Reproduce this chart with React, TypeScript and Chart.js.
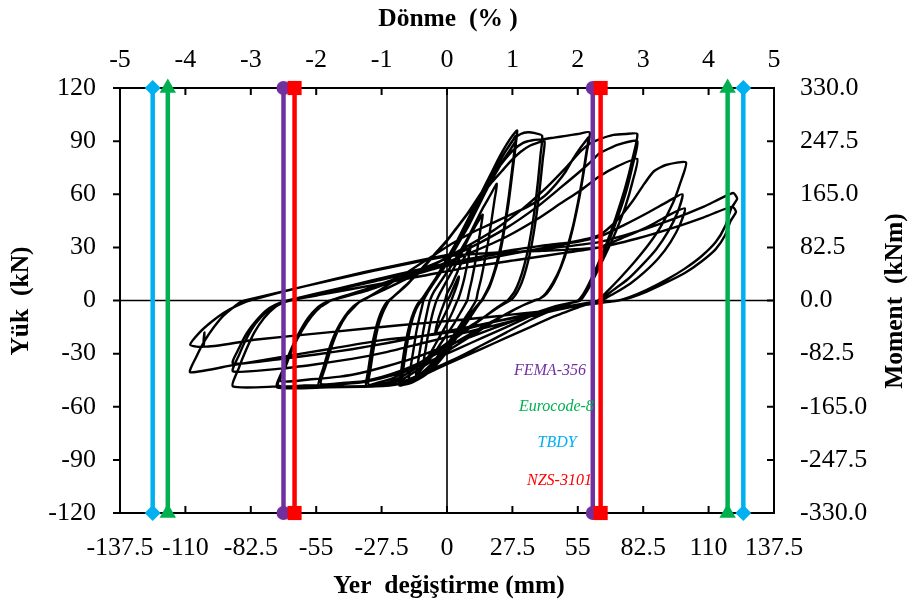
import React, { useEffect, useRef } from "react";
import { Chart, registerables } from "chart.js";

Chart.register(...registerables);

// ---- axis ticks ----
const xTicksMm = [-137.5, -110, -82.5, -55, -27.5, 0, 27.5, 55, 82.5, 110, 137.5];
const topTicksPct = [-5, -4, -3, -2, -1, 0, 1, 2, 3, 4, 5];
const yTicksKN = [-120, -90, -60, -30, 0, 30, 60, 90, 120];
const yTicksKNm = [-330, -247.5, -165, -82.5, 0, 82.5, 165, 247.5, 330];

// ---- hysteresis cycles: [displacement mm, load kN] ----
const cycle01: number[][] = [[0,0],[1,2],[2,5],[3,8],[4,11],[5,13.5],[4.5,10],[3.5,6],[2.5,2.5],[1.8,0],[0.5,-4],[-1,-8],[-2.5,-12],[-4,-16],[-5,-19],[-4.5,-15],[-3.5,-10],[-2.5,-6],[-1.5,-2.5],[-0.8,0]];
const cycle02: number[][] = [[0,4],[2,9],[4,15],[6,21],[8,26],[10,31],[9.3,26],[8.3,19],[7.2,12],[6,6],[4.8,1],[4.4,0],[2.5,-6],[0,-13],[-2.5,-19],[-5,-25],[-7.5,-31],[-10,-36],[-9.3,-30],[-8.3,-22],[-7.2,-14],[-6,-7],[-4.8,-1.5],[-4.4,0]];
const cycle03: number[][] = [[-3,4],[-1,9],[1.5,15],[4,21],[6.5,28],[9,35],[11.5,41],[13.5,45.5],[15,48.5],[14.2,41],[13,31],[11.8,21],[10.5,12],[9.3,5],[8.5,0],[6,-6],[3,-13],[0,-19],[-3,-25],[-6,-31],[-9,-36],[-11.5,-40],[-13,-42],[-12.2,-35],[-11,-25],[-9.8,-16],[-8.6,-8],[-7.6,-2],[-7.2,0]];
const cycle04: number[][] = [[-5.5,5],[-3,10],[0,16],[3,22],[6,29],[9,36],[12,44],[15,52],[18,59],[21,66],[20,57],[18.7,45],[17.3,33],[15.8,22],[14.3,12],[13,5],[12.2,0],[9.5,-6],[6.5,-12],[3.5,-18],[0.5,-24],[-2.5,-30],[-5.5,-35],[-8.5,-39],[-11.5,-42],[-14,-44],[-16,-45],[-15.2,-37],[-14,-27],[-12.8,-17],[-11.5,-9],[-10.4,-3],[-9.9,0]];
const cycle05: number[][] = [[-7.5,6],[-5,12],[-2,19],[1,26],[4,33],[7,41],[10,49],[13,57],[16,65],[19,73],[22,81],[25,88],[27.5,93],[29.5,96],[28.8,87],[27.7,75],[26.4,62],[25,49],[23.5,37],[21.8,26],[20,17],[18,9],[16,3.5],[14.5,0],[12,-5],[9,-11],[6,-17],[3,-23],[0,-29],[-3,-34],[-6,-38.5],[-9,-42],[-12,-44.5],[-15,-46.5],[-18,-47.5],[-20,-48],[-19.2,-40],[-18.2,-31],[-17,-22],[-15.6,-14],[-14,-7],[-12.4,-2.5],[-11,0]];
const cycle06: number[][] = [[-8.5,5],[-6,10],[-3,16],[0,22],[3,29],[6,36],[9,44],[12,52],[15,60],[18,68],[21,76],[24,83],[27,89],[29,93],[28.3,84],[27.2,72],[26,59],[24.6,46],[23.1,34],[21.4,24],[19.6,15],[17.7,8],[15.8,3],[14.5,0],[12,-4],[9,-10],[6,-16],[3,-22],[0,-27],[-3,-32],[-6,-37],[-9,-40.5],[-12,-43.5],[-15,-45.5],[-18,-46.5],[-20,-47],[-19.2,-39],[-18.2,-30],[-17,-21],[-15.6,-13],[-14,-6.5],[-12.4,-2],[-11.2,0]];
const cycle07: number[][] = [[-8.5,4],[-6,9],[-3,15],[0,21],[3,28],[6,35],[9,42],[12,50],[15,58],[18,66],[21,73],[24,80],[27,86],[29,90],[28.3,81],[27.2,69],[26,56],[24.6,44],[23.1,32],[21.4,22],[19.6,14],[17.7,7],[15.8,2.5],[14.8,0],[12,-4],[9,-9],[6,-15],[3,-20],[0,-25],[-3,-30],[-6,-35],[-9,-39],[-12,-42],[-15,-44],[-19,-45.5],[-18.2,-37],[-17.2,-28],[-16,-19],[-14.6,-11],[-13,-5],[-11.5,-1.5],[-10.5,0]];
const cycle08: number[][] = [[-8,5],[-5,11],[-2,17],[1,24],[4,31],[7,38],[10,46],[13,54],[16,62],[19,70],[22,78],[25,85],[28,91],[31,94],[34,95],[37,94.5],[40,93],[39.3,82],[38.3,68],[37.1,54],[35.7,41],[34.1,29],[32.3,19],[30.4,11],[28.4,5],[26.5,1.5],[25.5,0],[21,-4],[16,-9],[11,-14],[6,-19],[1,-24],[-4,-29],[-9,-34],[-14,-39],[-19,-43],[-24,-46],[-29,-47.5],[-34,-48.5],[-33.2,-40],[-32.2,-31],[-31,-22],[-29.6,-14],[-28,-7.5],[-26.4,-3],[-25,-0.5],[-24.5,0]];
const cycle09: number[][] = [[-21,4],[-17,9],[-13,14],[-9,20],[-5,26],[-1,32],[3,39],[7,46],[11,53],[15,60],[19,67],[23,73],[27,79],[31,84],[35,87.5],[38,89],[41,90],[40.3,80],[39.3,67],[38.1,53],[36.7,40],[35.1,28],[33.3,18],[31.4,10],[29.4,4.5],[27.5,1],[26.5,0],[22,-3.5],[17,-8],[12,-12.5],[7,-17],[2,-22],[-3,-27],[-8,-32],[-13,-36.5],[-18,-40.5],[-23,-44],[-28,-46],[-33,-47.5],[-32.2,-39],[-31.2,-30],[-30,-21],[-28.6,-13],[-27,-7],[-25.4,-2.5],[-24.2,0]];
const cycle10: number[][] = [[-20,5],[-16,10],[-12,16],[-8,22],[-4,28],[0,34],[4,41],[8,48],[12,56],[16,64],[20,72],[24,79],[28,85],[32,89],[36,90.5],[40,91],[45,92],[50,93],[55,94],[60,95],[58.8,84],[57.3,71],[55.5,57],[53.3,43],[50.8,30],[48,19],[45,10],[42,4],[39,1],[36.5,0],[30,-4],[23,-9],[16,-15],[9,-21],[2,-27],[-5,-33],[-12,-39],[-18,-44],[-24,-47],[-32,-48.3],[-42,-48.5],[-54,-48.5],[-52,-38],[-49.5,-27],[-46.5,-17],[-43,-9],[-39.5,-3.5],[-37,-1],[-35.5,0]];
const cycle11: number[][] = [[-28,6],[-20,13],[-12,20],[-5,26],[2,32],[10,38],[18,43],[26,48],[34,53],[41,59],[46,66],[50,73],[53,80],[56,86],[58,89.5],[59.5,92],[58.3,81],[56.8,68],[55,55],[52.8,41],[50.3,29],[47.5,18],[44.5,10],[41.5,4],[39,1],[37,0],[30,-4],[23,-9],[16,-14],[9,-19.5],[2,-25],[-5,-30.5],[-12,-35.5],[-19,-39.5],[-27,-43],[-35,-45.5],[-44,-46.5],[-53,-47],[-51,-37],[-48.5,-26],[-45.5,-16],[-42,-8],[-38.5,-3],[-36,0]];
const cycle12: number[][] = [[-25,7],[-10,17],[5,28],[20,40],[32,52],[42,64],[50,75],[56,84],[60,88.5],[64,91],[70,93.5],[75,94],[80,94],[78,80],[75,64],[71,47],[67,32],[63,19],[59.5,9],[57,3],[55,0],[45,-5],[35,-11],[25,-18],[15,-25],[5,-32],[-5,-38],[-12,-43],[-20,-47],[-30,-48.5],[-50,-49],[-71.5,-49],[-69,-39],[-66,-29],[-62.5,-19],[-58.5,-10],[-54.5,-4],[-51,-1],[-49,0]];
const cycle13: number[][] = [[-35,6],[-20,13],[-5,21],[10,30],[25,41],[38,53],[48,64],[56,73],[61,79],[64,83],[72,88],[80,90],[78,76],[75,60],[71,44],[67,30],[63,18],[59.5,8],[57,2.5],[55.5,0],[45,-4],[35,-9],[25,-15],[15,-21],[5,-27],[-5,-33],[-15,-39],[-25,-43],[-35,-46],[-48,-47.5],[-60,-48],[-71,-48],[-68.5,-38],[-65.5,-28],[-62,-18],[-58,-9.5],[-54,-4],[-50.5,-1],[-49,0]];
const cycle14: number[][] = [[-35,5],[-20,12],[-5,19],[10,27],[25,36],[38,46],[48,55],[56,62],[64,70],[72,76],[80,80],[78,67],[75,53],[71,39],[67,27],[63,16],[60,8],[57.5,2.5],[56,0],[45,-3.5],[35,-8],[25,-13],[15,-18],[5,-23],[-5,-28],[-15,-33],[-25,-37],[-35,-40.5],[-45,-43],[-57,-44.5],[-70,-45.5],[-67.5,-36],[-64.5,-26],[-61,-17],[-57,-9],[-53,-3.5],[-50,-1],[-49,0]];
const cycle15: number[][] = [[-35,6],[-20,12],[-5,18],[10,23],[25,28],[40,31],[52,33],[64,37],[72,46],[78,56],[83,66],[87,73],[92,76.5],[100.5,78],[98,66],[95,55],[90,42],[85,32],[79,22],[73,13],[68,6],[65,2],[63.5,0],[55,-4],[45,-9],[35,-15],[25,-21],[15,-27],[5,-33],[-5,-39],[-12,-43.5],[-20,-47],[-30,-48.3],[-50,-48.5],[-70,-48.5],[-90,-48.5],[-87.5,-38],[-84.5,-28],[-81,-18],[-77,-10],[-72.5,-4],[-68.5,-1],[-66,0]];
const cycle16: number[][] = [[-50,5],[-30,11],[-10,17],[10,22],[30,27],[50,32],[64,36],[75,43],[85,50],[93,56],[99,60],[97,50],[93,39],[88,29],[82,20],[76,12],[70,6],[66,2],[64,0],[50,-4],[35,-9],[20,-14],[5,-19],[-10,-24],[-25,-29],[-40,-33],[-55,-36],[-70,-38.5],[-90,-40],[-87.5,-31],[-84.5,-22],[-80.5,-13],[-76,-6.5],[-71,-2],[-66.5,0]];
const cycle17: number[][] = [[-50,4],[-30,9],[-10,14],[10,19],[30,23],[50,27],[64,30],[75,36],[85,42],[93,48],[100,52],[98,43],[94,33],[89,24],[83,16],[77,9.5],[71,4.5],[67,1.5],[65,0],[50,-3.5],[35,-7.5],[20,-12],[5,-16],[-10,-20],[-25,-24],[-40,-27.5],[-55,-30.5],[-70,-33],[-90,-35.5],[-87.5,-27],[-84,-18],[-80,-11],[-75.5,-5],[-70.5,-1.5],[-67,0]];
const cycle18: number[][] = [[-45,7],[-20,15],[0,21],[20,26],[40,29],[64,33],[80,39],[95,46],[108,53],[120.3,60.7],[122,57.5],[119.5,52],[117,42],[113,33],[107,25],[100,18],[92,11.5],[84,6],[77,2],[72,0],[55,-3],[40,-7],[20,-12],[5,-17],[-10,-20],[-28,-22.5],[-50,-27.5],[-70,-32],[-90,-36.5],[-108,-40.5],[-105.5,-32],[-102,-23],[-98,-15],[-94,-8.5],[-90,-4],[-87,-1],[-85,0]];
const cycle19: number[][] = [[-60,8],[-30,17],[0,25],[20,27],[40,28],[64,30],[80,35],[95,41],[108,47],[120,53],[121.5,50],[119.3,45],[117,37],[113,29],[107,22],[100,15.5],[92,10],[84,5],[77,1.5],[72,0],[55,-3],[40,-6],[20,-9],[5,-11],[-20,-14],[-50,-18],[-80,-22],[-102,-26],[-102,-18],[-102.5,-26],[-108,-25],[-104,-18],[-99,-12],[-94,-7],[-88.5,-3],[-83,0],[-60,8],[-35,16],[-10,23],[5,27]];

const cycles = [cycle01, cycle02, cycle03, cycle04, cycle05, cycle06, cycle07, cycle08, cycle09, cycle10, cycle11, cycle12, cycle13, cycle14, cycle15, cycle16, cycle17, cycle18, cycle19];

// ---- code limits (mm) ----
const limitNames = ["FEMA-356", "Eurocode-8", "TBDY", "NZS-3101"];
const limitColors = ["#7030A0", "#00B050", "#00B0F0", "#FF0000"];
const limitLeftMm = [-68.75, -117.4, -123.75, -64.1];
const limitRightMm = [61.3, 118.0, 124.6, 64.6];
const limitMarkers = ["circle", "triangle", "rectRot", "rect"];
const limitMarkerRadius = [7, 9.5, 8, 10];

// label anchor positions (mm, kN) for the limit names
const labelAnchorX = [43.3, 46.0, 46.3, 47.3];
const labelAnchorY = [-39.8, -60.1, -80.5, -101.9];

const SERIF = "'Liberation Serif', 'Times New Roman', serif";

export default function App() {
  const ref = useRef<HTMLCanvasElement | null>(null);

  useEffect(() => {
    document.body.style.margin = "0";
    const canvas = ref.current;
    if (!canvas) return;

    const curve = cycles.flat().map(([x, y]) => ({ x, y }));

    const limitSets: any[] = [];
    limitNames.forEach((name, i) => {
      [limitLeftMm[i], limitRightMm[i]].forEach((v, k) => {
        limitSets.push({
          label: name + (k === 0 ? " -" : " +"),
          data: [{ x: v, y: -120 }, { x: v, y: 120 }],
          showLine: true,
          borderColor: limitColors[i],
          borderWidth: 4.5,
          pointStyle: limitMarkers[i],
          pointRadius: limitMarkerRadius[i],
          pointBackgroundColor: limitColors[i],
          pointBorderColor: limitColors[i],
          pointBorderWidth: 0,
          clip: false,
          order: 5 - i,
          xAxisID: "x",
          yAxisID: "y",
        });
      });
    });

    const tickFont = { family: SERIF, size: 26 };

    const decor = {
      id: "decor",
      beforeDatasetsDraw(chart: any) {
        const { ctx, chartArea: a, scales } = chart;
        ctx.save();
        ctx.strokeStyle = "#000";
        ctx.lineWidth = 1.6;
        const x0 = scales.x.getPixelForValue(0);
        const y0 = scales.y.getPixelForValue(0);
        ctx.beginPath();
        ctx.moveTo(a.left, y0); ctx.lineTo(a.right, y0);
        ctx.moveTo(x0, a.top); ctx.lineTo(x0, a.bottom);
        ctx.stroke();
        ctx.lineWidth = 2;
        ctx.strokeRect(a.left, a.top, a.right - a.left, a.bottom - a.top);
        const L = 7;
        ctx.beginPath();
        xTicksMm.forEach((v) => {
          const p = scales.x.getPixelForValue(v);
          ctx.moveTo(p, a.bottom); ctx.lineTo(p, a.bottom - L);
        });
        topTicksPct.forEach((v) => {
          const p = scales.x2.getPixelForValue(v);
          ctx.moveTo(p, a.top); ctx.lineTo(p, a.top + L);
        });
        yTicksKN.forEach((v) => {
          const p = scales.y.getPixelForValue(v);
          ctx.moveTo(a.left - L, p); ctx.lineTo(a.left, p);
        });
        yTicksKNm.forEach((v) => {
          const p = scales.y2.getPixelForValue(v);
          ctx.moveTo(a.right - L, p); ctx.lineTo(a.right, p);
        });
        ctx.stroke();
        ctx.restore();
      },
      afterDraw(chart: any) {
        const { ctx, scales } = chart;
        ctx.save();
        ctx.fillStyle = "#000";
        ctx.textAlign = "center";
        ctx.textBaseline = "middle";
        ctx.font = `bold 25.5px ${SERIF}`;
        ctx.fillText("Dönme  (% )", 448, 19);
        ctx.fillText("Yer  değiştirme (mm)", 449, 586);
        ctx.save();
        ctx.translate(21, 301);
        ctx.rotate(-Math.PI / 2);
        ctx.fillText("Yük  (kN)", 0, 0);
        ctx.restore();
        ctx.save();
        ctx.translate(895, 301);
        ctx.rotate(-Math.PI / 2);
        ctx.fillText("Moment  (kNm)", 0, 0);
        ctx.restore();
        ctx.font = `italic 16px ${SERIF}`;
        limitNames.forEach((n, i) => {
          ctx.fillStyle = limitColors[i];
          ctx.fillText(n, scales.x.getPixelForValue(labelAnchorX[i]), scales.y.getPixelForValue(labelAnchorY[i]));
        });
        ctx.restore();
      },
    };

    const common = {
      grid: { display: false, drawTicks: false },
      border: { display: false },
    };

    const chart = new Chart(canvas, {
      type: "scatter",
      data: {
        datasets: [
          ...limitSets,
          {
            label: "Yük",
            data: curve,
            showLine: true,
            borderColor: "#000",
            borderWidth: 2.4,
            pointRadius: 0,
            tension: 0.2,
            order: 10,
            xAxisID: "x",
            yAxisID: "y",
          },
        ],
      },
      options: {
        animation: false,
        responsive: false,
        devicePixelRatio: 1,
        layout: { padding: 0 },
        plugins: { legend: { display: false }, tooltip: { enabled: false } },
        scales: {
          x: {
            type: "linear", position: "bottom", min: -137.5, max: 137.5,
            ...common,
            afterBuildTicks: (s: any) => { s.ticks = xTicksMm.map((v) => ({ value: v })); },
            afterFit: (s: any) => { s.height = 95; },
            ticks: { padding: 20, font: tickFont, color: "#000", autoSkip: false, maxRotation: 0, minRotation: 0, callback: (v: any) => String(v) },
          },
          x2: {
            type: "linear", position: "top", min: -5, max: 5,
            ...common,
            afterBuildTicks: (s: any) => { s.ticks = topTicksPct.map((v) => ({ value: v })); },
            afterFit: (s: any) => { s.height = 88; },
            ticks: { padding: 12, font: tickFont, color: "#000", autoSkip: false, maxRotation: 0, minRotation: 0, callback: (v: any) => String(v) },
          },
          y: {
            type: "linear", position: "left", min: -120, max: 120,
            ...common,
            afterBuildTicks: (s: any) => { s.ticks = yTicksKN.map((v) => ({ value: v })); },
            afterFit: (s: any) => { s.width = 120; },
            ticks: { padding: 24, font: tickFont, color: "#000", autoSkip: false, callback: (v: any) => String(v) },
          },
          y2: {
            type: "linear", position: "right", min: -330, max: 330,
            ...common,
            afterBuildTicks: (s: any) => { s.ticks = yTicksKNm.map((v) => ({ value: v })); },
            afterFit: (s: any) => { s.width = 137; },
            ticks: { padding: 26, font: tickFont, color: "#000", autoSkip: false, callback: (v: any) => Number(v).toFixed(1) },
          },
        },
      },
      plugins: [decor],
    } as any);

    return () => chart.destroy();
  }, []);

  return (
    <div style={{ position: "absolute", left: 0, top: 0, width: 911, height: 608, background: "#fff" }}>
      <canvas ref={ref} width={911} height={608} style={{ display: "block" }} />
    </div>
  );
}
